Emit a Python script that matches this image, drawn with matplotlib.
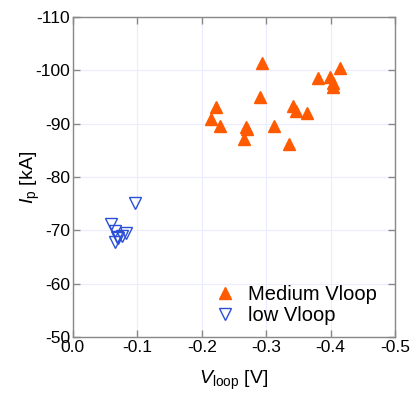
import matplotlib
matplotlib.use("Agg")
import matplotlib.pyplot as plt

plt.rcParams['font.family'] = ['Liberation Sans', 'DejaVu Sans']
plt.rcParams['mathtext.fontset'] = 'custom'
plt.rcParams['mathtext.rm'] = 'Liberation Sans'
plt.rcParams['mathtext.it'] = 'Liberation Sans:italic'

med_v = [-0.214, -0.222, -0.229, -0.265, -0.268, -0.270, -0.290, -0.2935, -0.312,
         -0.336, -0.342, -0.346, -0.363, -0.381, -0.399, -0.404, -0.404, -0.4146]
med_ip = [-90.8, -93.2, -89.6, -87.1, -89.4, -88.9, -94.9, -101.3, -89.5,
          -86.2, -93.3, -92.3, -92.0, -98.6, -98.8, -97.6, -96.8, -100.5]

low_v = [-0.097, -0.059, -0.066, -0.082, -0.076, -0.070, -0.065, -0.068]
low_ip = [-75.1, -71.2, -69.8, -69.5, -69.0, -68.5, -67.9, -68.8]

xticks = [0.0, -0.1, -0.2, -0.3, -0.4, -0.5]
xticklabels = ['0.0', '-0.1', '-0.2', '-0.3', '-0.4', '-0.5']
yticks = [-50, -60, -70, -80, -90, -100, -110]
yticklabels = ['-50', '-60', '-70', '-80', '-90', '-100', '-110']

fig = plt.figure(figsize=(4.14, 3.94), dpi=100)
ax = fig.add_axes([0.176, 0.1447, 0.778, 0.8123])

ax.plot(med_v, med_ip, linestyle='none', marker='^', markersize=9,
        color='#ff5a00', markeredgecolor='#ff5a00', label='Medium Vloop', zorder=3)
ax.plot(low_v, low_ip, linestyle='none', marker='v', markersize=8.5,
        markerfacecolor='none', markeredgecolor='#2a4fd6', markeredgewidth=1.0,
        label='low Vloop', zorder=3)

ax.set_xlim(0.0, -0.5)
ax.set_ylim(-50, -110)
ax.set_xticks(xticks)
ax.set_xticklabels(xticklabels)
ax.set_yticks(yticks)
ax.set_yticklabels(yticklabels)

ax.grid(True, color='#ececff', linewidth=0.8, zorder=0)
ax.set_axisbelow(True)
for s in ax.spines.values():
    s.set_color('#888888')
    s.set_linewidth(1.0)
ax.tick_params(direction='in', top=True, right=True, length=5, width=1.0,
               color='#888888', labelsize=12.5, pad=2)

ax.set_xlabel(r'$V_{\rm loop}$ [V]', fontsize=14, labelpad=10)
ax.set_ylabel(r'$I_{\rm p}$ [kA]', fontsize=14, labelpad=-5)

ax.legend(loc='lower right', frameon=False, fontsize=14.5, handlelength=1.0,
          handletextpad=0.6, borderaxespad=0.2, labelspacing=0.1,
          bbox_to_anchor=(0.98, 0.0))

fig.savefig('out.png', dpi=100)
